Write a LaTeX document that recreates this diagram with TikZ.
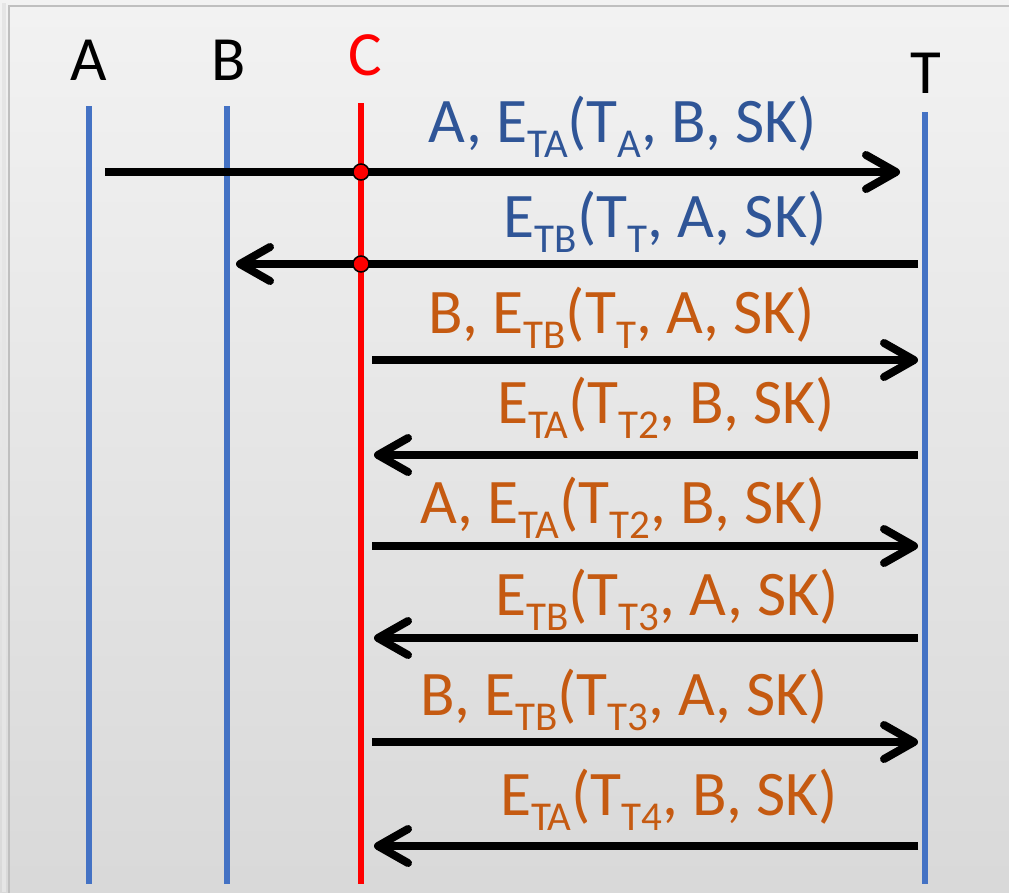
\documentclass[tikz,border=0pt]{standalone}
\usepackage{fontspec}
\setmainfont{Carlito}
\usetikzlibrary{arrows.meta}
\definecolor{lifeblue}{HTML}{4472C4}
\definecolor{msgblue}{HTML}{2F5597}
\definecolor{msgorange}{HTML}{C55A11}
\definecolor{framegray}{HTML}{BFBFBF}
\newcommand\sbs[1]{\raisebox{-0.25em}{\fontsize{41}{41}\selectfont #1}}
\tikzset{
  lifeline/.style={line width=6pt, lifeblue},
  attacker/.style={line width=6pt, red},
  party/.style={font=\fontsize{63}{63}\selectfont, anchor=base, inner sep=0pt},
  msg/.style={line width=8pt, -{Straight Barb[length=30pt,width=34pt,line cap=round,line join=round]}},
  msgtext/.style={font=\fontsize{63.5}{63.5}\selectfont, anchor=base, inner sep=0pt},
  tap/.style={circle, fill=red, draw=black, line width=1.5pt, minimum size=16pt, inner sep=0pt},
}
\begin{document}
\begin{tikzpicture}[x=1pt,y=-1pt]
  \useasboundingbox (0,0) rectangle (1009,892);
  % background panel
  \shade[top color=black!5, bottom color=black!15] (0,0) rectangle (1009,892);
  \draw[black!10, line width=4pt] (4,3) -- (4,892);
  \draw[framegray, line width=2pt] (9,900) -- (9,6) -- (1015,6);

  % party names
  \node[party] (nA) at (89,80) {A};
  \node[party] (nB) at (229,80) {B};
  \node[party, text=red] (nC) at (365,75) {C};
  \node[party] (nT) at (926,93) {T};

  % lifelines
  \coordinate (Atop) at (89,106);  \coordinate (Abot) at (89,884);
  \coordinate (Btop) at (227,106); \coordinate (Bbot) at (227,884);
  \coordinate (Ctop) at (361,103); \coordinate (Cbot) at (361,884);
  \coordinate (Ttop) at (925,112); \coordinate (Tbot) at (925,884);
  \draw[lifeline] (Atop) -- (Abot);
  \draw[lifeline] (Btop) -- (Bbot);
  \draw[attacker] (Ctop) -- (Cbot);
  \draw[lifeline] (Ttop) -- (Tbot);

  % message end points
  \coordinate (m1s) at (105,172); \coordinate (m1e) at (900,172);
  \coordinate (m2s) at (918,264); \coordinate (m2e) at (236,264);
  \coordinate (m3s) at (372,360); \coordinate (m3e) at (918,360);
  \coordinate (m4s) at (918,455); \coordinate (m4e) at (374,455);
  \coordinate (m5s) at (372,546); \coordinate (m5e) at (918,546);
  \coordinate (m6s) at (918,638); \coordinate (m6e) at (374,638);
  \coordinate (m7s) at (372,742); \coordinate (m7e) at (918,742);
  \coordinate (m8s) at (918,846); \coordinate (m8e) at (374,846);

  \draw[msg] (m1s) -- (m1e);
  \draw[msg] (m2s) -- (m2e);
  \draw[msg] (m3s) -- (m3e);
  \draw[msg] (m4s) -- (m4e);
  \draw[msg] (m5s) -- (m5e);
  \draw[msg] (m6s) -- (m6e);
  \draw[msg] (m7s) -- (m7e);
  \draw[msg] (m8s) -- (m8e);

  % interception points
  \node[tap] (x1) at (361,172) {};
  \node[tap] (x2) at (361,264) {};

  % message labels
  \node[msgtext, text=msgblue] (l1) at (623,142) {A, E\sbs{TA}(T\sbs{A}, B, SK)};
  \node[msgtext, text=msgblue] (l2) at (665,237) {E\sbs{TB}(T\sbs{T}, A, SK)};
  \node[msgtext, text=msgorange] (l3) at (622,333) {B, E\sbs{TB}(T\sbs{T}, A, SK)};
  \node[msgtext, text=msgorange] (l4) at (666,423) {E\sbs{TA}(T\sbs{T2}, B, SK)};
  \node[msgtext, text=msgorange] (l5) at (623,523) {A, E\sbs{TA}(T\sbs{T2}, B, SK)};
  \node[msgtext, text=msgorange] (l6) at (667,615) {E\sbs{TB}(T\sbs{T3}, A, SK)};
  \node[msgtext, text=msgorange] (l7) at (624,715) {B, E\sbs{TB}(T\sbs{T3}, A, SK)};
  \node[msgtext, text=msgorange] (l8) at (669,815) {E\sbs{TA}(T\sbs{T4}, B, SK)};
\end{tikzpicture}
\end{document}
